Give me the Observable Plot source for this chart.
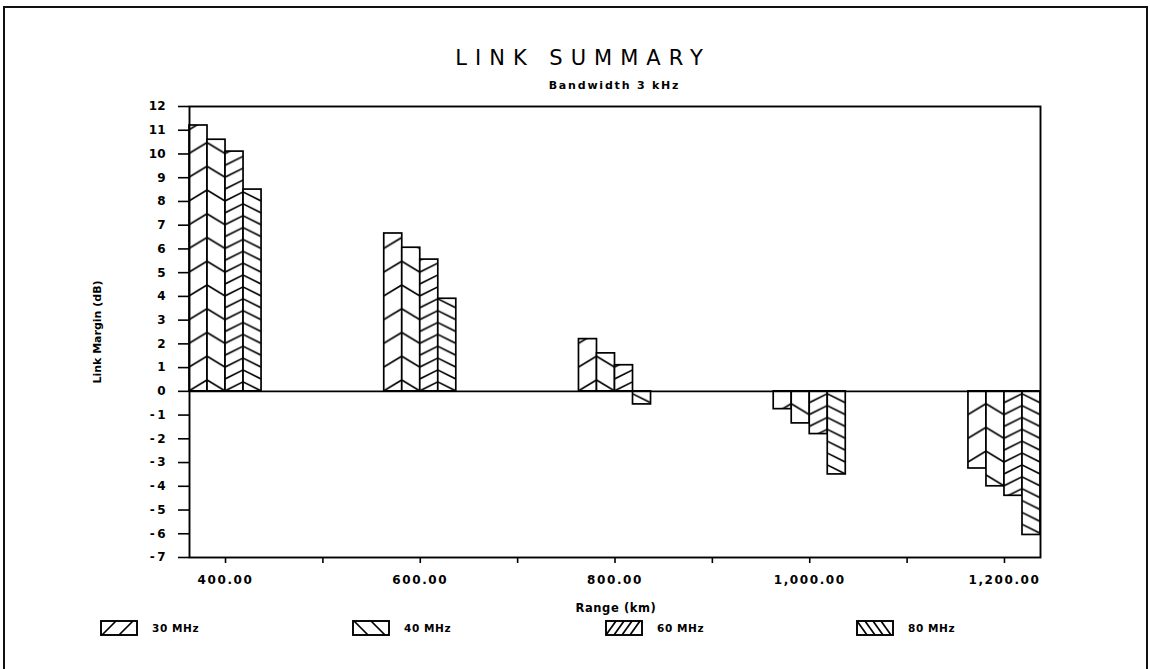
<!DOCTYPE html>
<html>
<head>
<meta charset="utf-8">
<script src="https://cdn.jsdelivr.net/npm/d3@7"></script>
<script src="https://cdn.jsdelivr.net/npm/@observablehq/plot@0.6"></script>
<style>
  body { margin: 0; background: #fff; }
  #page { position: relative; width: 1150px; height: 669px; overflow: hidden; font-family: "DejaVu Sans", sans-serif; color: #000; background: #fff; }
  #border { position: absolute; left: 3px; top: 6px; width: 1145px; height: 720px; border: 2px solid #111; box-sizing: border-box; }
  #title { position: absolute; top: 46px; left: 0; width: 1150px; text-align: center; font-size: 21px; letter-spacing: 8px; line-height: 24px; padding-left: 16px; box-sizing: border-box; }
  #subtitle { position: absolute; top: 79px; left: 0; width: 1229px; text-align: center; font-size: 11px; font-weight: bold; letter-spacing: 1.8px; line-height: 14px; }
  #chart { position: absolute; top: 96px; left: 0; }
  #xlabel { position: absolute; top: 601px; left: 0; width: 1232px; text-align: center; font-size: 11.5px; font-weight: bold; letter-spacing: 0.6px; line-height: 14px; }
  #legend { position: absolute; top: 620px; left: 0; width: 1150px; height: 18px; }
  .item { position: absolute; top: 0; display: flex; align-items: center; font-size: 10.5px; font-weight: bold; letter-spacing: 0.6px; }
  .item svg { margin-right: 14px; }
</style>
</head>
<body>
<div id="page">
  <div id="border"></div>
  <div id="title">LINK SUMMARY</div>
  <div id="subtitle">Bandwidth 3 kHz</div>
  <div id="chart"></div>
  <div id="xlabel">Range (km)</div>
  <div id="legend"></div>
</div>
<script>
// ---- data ----
const ranges = [400, 600, 800, 1000, 1200];
const seriesNames = ["30 MHz", "40 MHz", "60 MHz", "80 MHz"];
const margin30 = [11.2, 6.65, 2.2, -0.75, -3.25];
const margin40 = [10.6, 6.05, 1.6, -1.35, -4.0];
const margin60 = [10.1, 5.55, 1.1, -1.8, -4.4];
const margin80 = [8.5, 3.9, -0.55, -3.5, -6.05];
const yTicks = [-7, -6, -5, -4, -3, -2, -1, 0, 1, 2, 3, 4, 5, 6, 7, 8, 9, 10, 11, 12];
const xTicks = [400, 500, 600, 700, 800, 900, 1000, 1100, 1200];
const xLabelTicks = [400, 600, 800, 1000, 1200];

// ---- layout constants ----
const BW = 18.5; // bar width in km
const seriesValues = [margin30, margin40, margin60, margin80];
const rows = [];
seriesValues.forEach((vals, s) => vals.forEach((v, g) => {
  rows.push({range: ranges[g], series: s, value: v,
    x1: ranges[g] - 2 * BW + s * BW, x2: ranges[g] - BW + s * BW});
}));
rows.forEach((d, i) => d.id = "hp" + i);

const fmtX = d3.format(",.2f");
const fmtY = d => d < 0 ? "-\u2009" + (-d) : String(d);

const plot = Plot.plot({
  width: 1150,
  height: 500,
  marginTop: 10,
  marginBottom: 39,
  marginLeft: 189,
  marginRight: 110,
  x: {domain: [363, 1237]},
  y: {domain: [-7, 12]},
  color: {type: "identity"},
  style: {fontFamily: "DejaVu Sans", fontSize: "11.5px", fontWeight: "bold", background: "transparent", color: "black", overflow: "visible"},
  marks: [
    Plot.rectY(rows, {x1: "x1", x2: "x2", y1: 0, y2: "value", fill: d => `url(#${d.id})`, stroke: "black", strokeWidth: 1.7}),
    Plot.ruleY([0], {stroke: "black", strokeWidth: 1.9}),
    Plot.frame({stroke: "black", strokeWidth: 1.9}),
    Plot.axisY(yTicks, {label: null, tickSize: 11, tickPadding: 13, tickFormat: fmtY, strokeWidth: 1.6, fontSize: 12}),
    Plot.axisX(xTicks, {label: null, tickSize: 6, tickPadding: 12, strokeWidth: 1.6, fontSize: 12, letterSpacing: "1.6px",
      tickFormat: d => xLabelTicks.includes(d) ? fmtX(d) : ""}),
    Plot.text(["Link Margin (dB)"], {frameAnchor: "left", textAnchor: "middle", rotate: -90, dx: -92, fontSize: 11, fontWeight: "bold"})
  ]
});
document.getElementById("chart").append(plot);

// hatch patterns anchored to each bar
const ns = "http://www.w3.org/2000/svg";
function el(tag, attrs) {
  const e = document.createElementNS(ns, tag);
  for (const k in attrs) e.setAttribute(k, attrs[k]);
  return e;
}
const xs = plot.scale("x"), ys = plot.scale("y");
const y0 = ys.apply(0), unit = ys.apply(0) - ys.apply(1);
const defs = el("defs", {});
rows.forEach(d => {
  const X = xs.apply(d.x1), W = xs.apply(d.x2) - X;
  const dense = d.series >= 2;
  const P = dense ? unit / 2 : unit;
  const r = dense ? 9 : 11;
  const up = d.series % 2 === 0;
  const p = el("pattern", {id: d.id, patternUnits: "userSpaceOnUse", x: X, y: y0, width: W, height: P});
  p.append(el("rect", {x: 0, y: 0, width: W, height: P, fill: "white"}));
  for (const off of [0, P, 2 * P]) {
    const c = up ? [0, off, W, off - r] : [0, off - r, W, off];
    p.append(el("line", {x1: c[0], y1: c[1], x2: c[2], y2: c[3], stroke: "black", "stroke-width": 1.7}));
  }
  defs.append(p);
});
plot.insertBefore(defs, plot.firstChild);
// letter spacing on x tick labels
plot.querySelectorAll("[aria-label='x-axis tick label'] text").forEach(t => t.setAttribute("letter-spacing", "1.6"));

// legend
const legend = document.getElementById("legend");
const legendX = [100, 352, 605, 856];
seriesNames.forEach((name, s) => {
  const item = document.createElement("div");
  item.className = "item";
  item.style.left = legendX[s] + "px";
  const sw = el("svg", {width: 38, height: 16});
  const dense = s >= 2, up = s % 2 === 0;
  const starts = dense ? [1, 9, 17, 25] : [2, 19];
  const dx = dense ? 10 : 14;
  starts.forEach(x0 => {
    const c = up ? [x0, 15, x0 + dx, 1] : [x0, 1, x0 + dx, 15];
    sw.append(el("line", {x1: c[0], y1: c[1], x2: c[2], y2: c[3], stroke: "black", "stroke-width": 1.7}));
  });
  sw.append(el("rect", {x: 1, y: 1, width: 36, height: 14, fill: "none", stroke: "black", "stroke-width": 1.9}));
  item.append(sw);
  const t = document.createElement("span");
  t.textContent = name;
  item.append(t);
  legend.append(item);
});
</script>
</body>
</html>
